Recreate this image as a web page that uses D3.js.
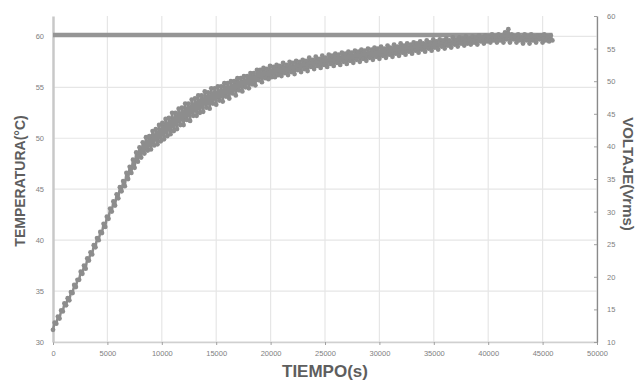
<!DOCTYPE html>
<html>
<head>
<meta charset="utf-8">
<script src="https://cdn.jsdelivr.net/npm/d3@7"></script>
<style>
  body { margin: 0; background: #fff; }
  svg { display: block; font-family: "Liberation Sans", Arial, sans-serif; }
</style>
</head>
<body>
<div id="chart"></div>
<script>
// tiempo (s), temperatura (°C)
const temperatura = [
  [0, 31.2], [150, 31.9], [300, 31.8], [450, 32.5], [600, 32.3], [750, 33.1], [900, 33.0], [1050, 33.8],
  [1200, 33.6], [1350, 34.3], [1500, 34.1], [1650, 34.9], [1800, 34.8], [1950, 35.6], [2100, 35.4], [2250, 36.1],
  [2400, 36.1], [2550, 36.9], [2700, 36.7], [2850, 37.5], [3000, 37.2], [3150, 38.2], [3300, 38.0], [3450, 38.8],
  [3600, 38.6], [3750, 39.5], [3900, 39.3], [4050, 40.2], [4200, 40.0], [4350, 40.8], [4500, 40.7], [4650, 41.6],
  [4800, 41.3], [4950, 42.3], [5100, 42.1], [5250, 43.1], [5400, 42.8], [5550, 43.8], [5700, 43.4], [5850, 44.5],
  [6000, 44.1], [6150, 45.2], [6300, 44.8], [6450, 45.8], [6600, 45.3], [6750, 46.6], [6900, 46.0], [7050, 47.2],
  [7200, 46.6], [7350, 47.9], [7500, 47.1], [7650, 48.6], [7800, 47.7], [7950, 49.1], [8100, 48.1], [8250, 49.6],
  [8400, 48.5], [8550, 50.1], [8700, 48.8], [8850, 50.2], [9000, 48.9], [9150, 50.7], [9300, 49.3], [9450, 50.9],
  [9600, 49.4], [9750, 51.3], [9900, 49.7], [10050, 51.5], [10200, 49.9], [10350, 51.9], [10500, 50.2], [10650, 52.0],
  [10800, 50.4], [10950, 52.5], [11100, 50.7], [11250, 52.5], [11400, 50.9], [11550, 52.9], [11700, 51.3], [11850, 53.0],
  [12000, 51.3], [12150, 53.4], [12300, 51.8], [12450, 53.4], [12600, 51.7], [12750, 53.8], [12900, 52.2], [13050, 53.9],
  [13200, 52.2], [13350, 54.2], [13500, 52.5], [13650, 54.2], [13800, 52.6], [13950, 54.6], [14100, 53.0], [14250, 54.5],
  [14400, 52.9], [14550, 54.9], [14700, 53.4], [14850, 54.9], [15000, 53.3], [15150, 55.1], [15300, 53.7], [15450, 55.1],
  [15600, 53.6], [15750, 55.4], [15900, 54.1], [16050, 55.4], [16200, 53.9], [16350, 55.6], [16500, 54.4], [16650, 55.6],
  [16800, 54.2], [16950, 55.9], [17100, 54.7], [17250, 55.9], [17400, 54.6], [17550, 56.1], [17700, 55.0], [17850, 56.1],
  [18000, 54.9], [18150, 56.4], [18300, 55.3], [18450, 56.4], [18600, 55.2], [18750, 56.7], [18900, 55.7], [19050, 56.7],
  [19200, 55.5], [19350, 56.9], [19500, 55.9], [19650, 56.8], [19800, 55.8], [19950, 57.1], [20100, 56.0], [20250, 57.0],
  [20400, 56.0], [20550, 57.2], [20700, 56.2], [20850, 57.1], [21000, 56.1], [21150, 57.4], [21300, 56.4], [21450, 57.2],
  [21600, 56.2], [21750, 57.5], [21900, 56.5], [22050, 57.4], [22200, 56.3], [22350, 57.6], [22500, 56.7], [22650, 57.5],
  [22800, 56.5], [22950, 57.7], [23100, 56.8], [23250, 57.6], [23400, 56.6], [23550, 57.9], [23700, 57.0], [23850, 57.7],
  [24000, 56.8], [24150, 58.0], [24300, 57.1], [24450, 57.8], [24600, 56.9], [24750, 58.1], [24900, 57.2], [25050, 57.9],
  [25200, 57.0], [25350, 58.2], [25500, 57.3], [25650, 58.1], [25800, 57.1], [25950, 58.3], [26100, 57.4], [26250, 58.2],
  [26400, 57.2], [26550, 58.4], [26700, 57.5], [26850, 58.3], [27000, 57.3], [27150, 58.5], [27300, 57.6], [27450, 58.4],
  [27600, 57.4], [27750, 58.6], [27900, 57.7], [28050, 58.5], [28200, 57.5], [28350, 58.7], [28500, 57.8], [28650, 58.6],
  [28800, 57.6], [28950, 58.8], [29100, 57.9], [29250, 58.7], [29400, 57.7], [29550, 58.9], [29700, 58.0], [29850, 58.8],
  [30000, 57.8], [30150, 59.0], [30300, 58.1], [30450, 58.8], [30600, 57.9], [30750, 59.1], [30900, 58.2], [31050, 58.9],
  [31200, 58.0], [31350, 59.2], [31500, 58.3], [31650, 59.0], [31800, 58.1], [31950, 59.3], [32100, 58.4], [32250, 59.1],
  [32400, 58.2], [32550, 59.3], [32700, 58.5], [32850, 59.2], [33000, 58.3], [33150, 59.4], [33300, 58.6], [33450, 59.3],
  [33600, 58.4], [33750, 59.5], [33900, 58.7], [34050, 59.3], [34200, 58.5], [34350, 59.6], [34500, 58.8], [34650, 59.4],
  [34800, 58.6], [34950, 59.7], [35100, 58.9], [35250, 59.5], [35400, 58.7], [35550, 59.7], [35700, 59.0], [35850, 59.6],
  [36000, 58.8], [36150, 59.8], [36300, 59.1], [36450, 59.6], [36600, 58.9], [36750, 59.9], [36900, 59.2], [37050, 59.7],
  [37200, 59.0], [37350, 59.9], [37500, 59.3], [37650, 59.8], [37800, 59.1], [37950, 60.0], [38100, 59.3], [38250, 59.8],
  [38400, 59.2], [38550, 60.0], [38700, 59.4], [38850, 59.9], [39000, 59.2], [39150, 60.1], [39300, 59.5], [39450, 59.9],
  [39600, 59.3], [39750, 60.1], [39900, 59.5], [40050, 60.0], [40200, 59.4], [40350, 60.2], [40500, 59.6], [40650, 60.0],
  [40800, 59.4], [40950, 60.2], [41100, 59.6], [41250, 60.1], [41400, 59.4], [41550, 60.4], [41700, 59.7], [41850, 60.7],
  [42000, 59.4], [42150, 60.2], [42300, 59.7], [42450, 60.0], [42600, 59.4], [42750, 60.2], [42900, 59.6], [43050, 59.9],
  [43200, 59.3], [43350, 60.2], [43500, 59.6], [43650, 60.0], [43800, 59.3], [43950, 60.2], [44100, 59.6], [44250, 60.0],
  [44400, 59.4], [44550, 60.1], [44700, 59.7], [44850, 60.1], [45000, 59.4], [45150, 60.2], [45300, 59.6], [45450, 60.0],
  [45600, 59.5], [45750, 60.1], [45900, 59.6]
];

// tiempo (s), voltaje (Vrms)
const voltaje = [[0, 57.1], [10000, 57.1], [20000, 57.1], [30000, 57.1], [40000, 57.1], [45900, 57.1]];

const xTicks = [0, 5000, 10000, 15000, 20000, 25000, 30000, 35000, 40000, 45000, 50000];
const tempTicks = [30, 35, 40, 45, 50, 55, 60];
const voltTicks = [10, 15, 20, 25, 30, 35, 40, 45, 50, 55, 60];

const w = 638, h = 382;
const m = { t: 16, r: 41, b: 40, l: 53 };
const innerW = w - m.l - m.r;
const innerH = h - m.t - m.b;

const svg = d3.select('#chart').append('svg').attr('width', w).attr('height', h);
const g = svg.append('g').attr('transform', `translate(${m.l},${m.t})`);

const x = d3.scaleLinear().domain([0, 50000]).range([0, innerW]);
const yT = d3.scaleLinear().domain([30, 62]).range([innerH, 0]);
const yV = d3.scaleLinear().domain([10, 60]).range([innerH, 0]);

// gridlines
g.append('g')
  .selectAll('line')
  .data(xTicks.slice(1))
  .join('line')
  .attr('x1', d => x(d)).attr('x2', d => x(d))
  .attr('y1', 0).attr('y2', innerH)
  .attr('stroke', '#e6e6e6').attr('stroke-width', 1.2);
g.append('g')
  .selectAll('line')
  .data(tempTicks)
  .join('line')
  .attr('x1', 0).attr('x2', innerW)
  .attr('y1', d => yT(d)).attr('y2', d => yT(d))
  .attr('stroke', '#e6e6e6').attr('stroke-width', 1.2);

// axes
const styleAxis = (sel, lineCol, lineW) => {
  sel.select('.domain').attr('stroke', lineCol).attr('stroke-width', lineW);
  sel.selectAll('.tick line').attr('stroke', '#a0a0a0');
  sel.selectAll('.tick text').attr('fill', '#808080').attr('font-size', 7.5);
};

g.append('g')
  .attr('transform', `translate(0,${innerH})`)
  .call(d3.axisBottom(x).tickValues(xTicks).tickSize(3).tickSizeOuter(0).tickFormat(d3.format('d')).tickPadding(6))
  .call(s => styleAxis(s, '#d0d0d0', 1.5));

g.append('g')
  .call(d3.axisLeft(yT).tickValues(tempTicks).tickSize(0).tickSizeOuter(0).tickPadding(9))
  .call(s => styleAxis(s, '#c8c8c8', 2.5));

g.append('g')
  .attr('transform', `translate(${innerW},0)`)
  .call(d3.axisRight(yV).tickValues(voltTicks).tickSize(3).tickSizeOuter(0).tickPadding(7))
  .call(s => s.selectAll('.tick line').attr('x1', -3).attr('x2', 0))
  .call(s => styleAxis(s, '#8a8a8a', 1.3));

// voltaje series
g.append('path')
  .datum(voltaje)
  .attr('fill', 'none')
  .attr('stroke', '#959595')
  .attr('stroke-width', 4.5)
  .attr('d', d3.line().x(d => x(d[0])).y(d => yV(d[1])));

// temperatura series (dense markers)
const dot = '#8d8d8d';
g.append('path')
  .datum(temperatura)
  .attr('fill', 'none')
  .attr('stroke', dot)
  .attr('stroke-width', 2.5)
  .attr('stroke-linejoin', 'round')
  .attr('d', d3.line().x(d => x(d[0])).y(d => yT(d[1])));
g.append('g')
  .selectAll('circle')
  .data(temperatura)
  .join('circle')
  .attr('cx', d => x(d[0]))
  .attr('cy', d => yT(d[1]))
  .attr('r', 2.4)
  .attr('fill', dot);

// titles
const title = '#5e5e5e';
svg.append('text')
  .attr('x', m.l + innerW / 2).attr('y', 377)
  .attr('text-anchor', 'middle')
  .attr('font-size', 17).attr('font-weight', 'bold').attr('fill', title)
  .text('TIEMPO(s)');
svg.append('text')
  .attr('transform', `translate(25,${m.t + innerH / 2 + 2}) rotate(-90)`)
  .attr('text-anchor', 'middle')
  .attr('font-size', 14).attr('font-weight', 'bold').attr('fill', title)
  .text('TEMPERATURA(°C)');
svg.append('text')
  .attr('transform', `translate(623,${m.t + innerH / 2 - 5}) rotate(90)`)
  .attr('text-anchor', 'middle')
  .attr('font-size', 15).attr('font-weight', 'bold').attr('fill', title)
  .text('VOLTAJE(Vrms)');
</script>
</body>
</html>
